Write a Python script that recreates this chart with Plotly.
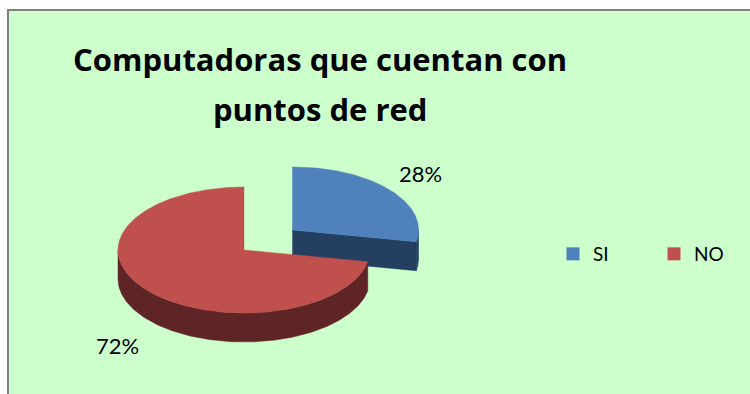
import numpy as np
import plotly.graph_objects as go

# ---- data ----
categories = ["SI", "NO"]
values = [28, 72]
top_colors = ["#4F81BD", "#C0504D"]
side_colors = ["#253F60", "#5F2526"]
explode = [0.5, 0.0]
title_lines = ["Computadoras que cuentan con", "puntos de red"]

# ---- geometry (pixel space) ----
CX, CY = 244, 250
RX, RY = 126, 63
DEPTH = 29
FONT = "Lato"
TITLE_FONT = "Open Sans"

total = sum(values)
fig = go.Figure()


def pt(cx, cy, a):
    r = np.radians(a)
    return cx + RX * np.cos(r), cy - RY * np.sin(r)


slices = []
start = 90.0
for cat, v, tc, sc, ex in zip(categories, values, top_colors, side_colors, explode):
    span = 360.0 * v / total
    a0, a1 = start, start - span
    mid = np.radians((a0 + a1) / 2)
    cx = CX + ex * RX * np.cos(mid)
    cy = CY - ex * RY * np.sin(mid)
    slices.append((cat, a0, a1, tc, sc, cx, cy))
    start = a1

# draw exploded slice first (it lies behind)
order = sorted(range(len(slices)), key=lambda i: -explode[i])
for i in order:
    cat, a0, a1, tc, sc, cx, cy = slices[i]
    faces = []
    # cut faces
    for a, sign in ((a0, 1), (a1, -1)):
        if sign * np.cos(np.radians(a)) < -1e-6:
            px, py = pt(cx, cy, a)
            faces.append(([cx, px, px, cx, cx], [cy, py, py + DEPTH, cy + DEPTH, cy]))
    # outer side: front part where sin(a) < 0
    angs = np.linspace(a1, a0, 400)
    front = angs[np.sin(np.radians(angs)) < 0]
    if len(front) > 1:
        runs = [[front[0]]]
        for a in front[1:]:
            if a - runs[-1][-1] > (angs[1] - angs[0]) * 1.5:
                runs.append([a])
            else:
                runs[-1].append(a)
        for run in runs:
            run = np.array(run)
            xs, ys = pt(cx, cy, run)
            fx = list(xs) + list(xs[::-1]) + [xs[0]]
            fy = list(ys) + list((ys + DEPTH)[::-1]) + [ys[0]]
            faces.append((fx, fy))
    for fx, fy in faces:
        fig.add_trace(go.Scatter(x=fx, y=fy, fill="toself", fillcolor=sc, mode="lines",
                                 line=dict(color=sc, width=0.5), showlegend=False,
                                 hoverinfo="skip"))
    xs, ys = pt(cx, cy, np.linspace(a0, a1, 400))
    fig.add_trace(go.Scatter(x=[cx] + list(xs) + [cx], y=[cy] + list(ys) + [cy],
                             fill="toself", fillcolor=tc, mode="lines",
                             line=dict(color=tc, width=0.5), showlegend=False,
                             hoverinfo="skip"))

# legend entries
for cat, tc in zip(categories, top_colors):
    fig.add_trace(go.Scatter(x=[None], y=[None], mode="markers", name=cat,
                             marker=dict(symbol="square", size=13, color=tc)))

# data labels
label_pos = [(420, 173), (117, 345)]
for v, (lx, ly) in zip(values, label_pos):
    fig.add_annotation(x=lx, y=ly, text=f"{round(100 * v / total)}%", showarrow=False,
                       font=dict(family=FONT, size=22, color="#000000"),
                       xanchor="center", yanchor="middle")

# title
for line, ty in zip(title_lines, [59, 109]):
    fig.add_annotation(x=320, y=ty, text=f"<b>{line}</b>", showarrow=False,
                       font=dict(family=TITLE_FONT, size=31, color="#000000"),
                       xanchor="center", yanchor="middle")

fig.update_layout(
    width=750, height=394,
    margin=dict(l=0, r=0, t=0, b=0, autoexpand=False),
    paper_bgcolor="#FFFFFF", plot_bgcolor="rgba(0,0,0,0)",
    xaxis=dict(range=[0, 750], visible=False, fixedrange=True),
    yaxis=dict(range=[394, 0], visible=False, fixedrange=True),
    shapes=[dict(type="rect", xref="x", yref="y", x0=8, y0=10, x1=770, y1=420,
                 fillcolor="#CCFFCC", line=dict(color="#808080", width=2), layer="below")],
    legend=dict(orientation="h", x=553 / 750, y=1 - 254 / 394, xanchor="left",
                yanchor="middle", bgcolor="rgba(0,0,0,0)",
                font=dict(family=FONT, size=19, color="#000000"),
                entrywidth=56, entrywidthmode="pixels", traceorder="normal"),
    showlegend=True,
)

fig.write_html("out.html")
